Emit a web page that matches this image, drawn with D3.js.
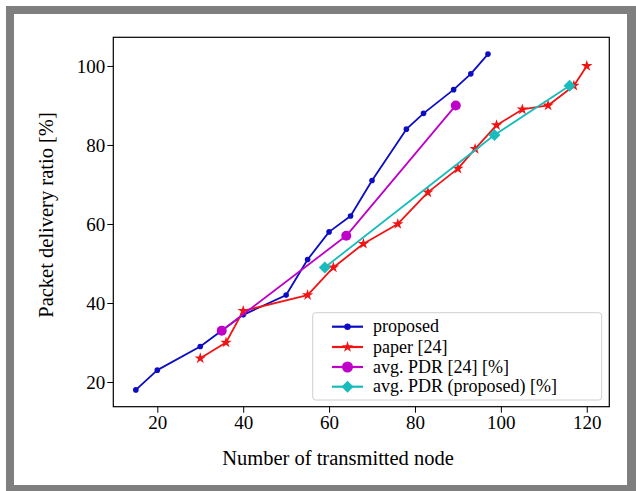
<!DOCTYPE html>
<html>
<head>
<meta charset="utf-8">
<script src="https://cdn.jsdelivr.net/npm/d3@7"></script>
<style>
  html, body { margin: 0; padding: 0; background: #fff; }
  svg { display: block; }
  text { font-family: "Liberation Serif", "DejaVu Serif", serif; fill: #000; }
</style>
</head>
<body>
<svg id="chart" width="636" height="491"></svg>
<script>
// ---- data ----
const proposedX = [15, 20, 30, 40, 50, 55, 60, 65, 70, 78, 82, 89, 93, 97];
const proposedY = [18, 23, 29, 37, 42, 51, 58, 62, 71, 84, 88, 94, 98, 103];
const paperX = [30, 36, 40, 55, 61, 68, 76, 83, 90, 94, 99, 105, 111, 117, 120];
const paperY = [26, 30, 38, 42, 49, 55, 60, 68, 74, 79, 85, 89, 90, 95, 100];
const avgPaperX = [35, 64, 89.5];
const avgPaperY = [33, 57, 90];
const avgPropX = [59, 98.5, 116];
const avgPropY = [49, 82.5, 95];
const xTicks = [20, 40, 60, 80, 100, 120];
const yTicks = [20, 40, 60, 80, 100];
const seriesNames = ["proposed", "paper [24]", "avg. PDR [24] [%]", "avg. PDR (proposed) [%]"];
const xTitle = "Number of transmitted node";
const yTitle = "Packet delivery ratio [%]";

const svg = d3.select("#chart");

// frame
const gray = "#7f7f7f";
svg.append("rect").attr("x", 6).attr("y", 6).attr("width", 630).attr("height", 8).attr("fill", gray);
svg.append("rect").attr("x", 6).attr("y", 6).attr("width", 8).attr("height", 485).attr("fill", gray);
svg.append("rect").attr("x", 627).attr("y", 6).attr("width", 9).attr("height", 485).attr("fill", gray);
svg.append("rect").attr("x", 6).attr("y", 485).attr("width", 630).attr("height", 6).attr("fill", gray);

const L = 113.3, R = 609.3, T = 37.3, B = 406.7;
const x = d3.scaleLinear().domain([9.75, 125.25]).range([L, R]);
const y = d3.scaleLinear().domain([13.75, 107.25]).range([B, T]);

// axes
const xAxis = d3.axisBottom(x).tickValues(xTicks).tickSize(6).tickPadding(3).tickFormat(d3.format("d"));
const yAxis = d3.axisLeft(y).tickValues(yTicks).tickSize(6).tickPadding(2).tickFormat(d3.format("d"));
const gx = svg.append("g").attr("transform", `translate(0,${B})`).call(xAxis);
const gy = svg.append("g").attr("transform", `translate(${L},0)`).call(yAxis);
[gx, gy].forEach(g => {
  g.select(".domain").remove();
  g.selectAll(".tick line").attr("stroke", "#000").attr("stroke-width", 1);
  g.selectAll(".tick text").attr("font-size", 19).attr("font-family", "Liberation Serif").attr("fill", "#000");
});

// plot area border
svg.append("rect").attr("x", L).attr("y", T).attr("width", R - L).attr("height", B - T)
  .attr("fill", "none").attr("stroke", "#000").attr("stroke-width", 1.2);

const colors = ["#0c0cc4", "#f01414", "#c000c8", "#18bcbc"];

function drawLine(xs, ys, color) {
  const pts = xs.map((v, i) => [x(v), y(ys[i])]);
  svg.append("path").attr("d", d3.line()(pts)).attr("fill", "none")
    .attr("stroke", color).attr("stroke-width", 1.8).attr("stroke-linejoin", "round");
  return pts;
}

// proposed
drawLine(proposedX, proposedY, colors[0]).forEach(p => {
  svg.append("circle").attr("cx", p[0]).attr("cy", p[1]).attr("r", 2.8).attr("fill", colors[0]);
});
// paper [24]
const star = d3.symbol().type(d3.symbolStar).size(40);
drawLine(paperX, paperY, colors[1]).forEach(p => {
  svg.append("path").attr("d", star()).attr("transform", `translate(${p[0]},${p[1]})`).attr("fill", colors[1]);
});
// avg PDR [24]
drawLine(avgPaperX, avgPaperY, colors[2]).forEach(p => {
  svg.append("circle").attr("cx", p[0]).attr("cy", p[1]).attr("r", 5).attr("fill", colors[2]);
});
// avg PDR proposed
const diamond = d3.symbol().type(d3.symbolSquare).size(72);
drawLine(avgPropX, avgPropY, colors[3]).forEach(p => {
  svg.append("path").attr("d", diamond()).attr("transform", `translate(${p[0]},${p[1]}) rotate(45)`).attr("fill", colors[3]);
});

// legend
const lg = svg.append("g");
lg.append("rect").attr("x", 312.7).attr("y", 312.7).attr("width", 289).attr("height", 87.3)
  .attr("rx", 3).attr("fill", "#fff").attr("fill-opacity", 0.85).attr("stroke", "#d0d0d0").attr("stroke-width", 1);
const rowY = [326.7, 347, 367, 386.7];
seriesNames.forEach((name, i) => {
  const cy = rowY[i];
  lg.append("line").attr("x1", 332).attr("x2", 363).attr("y1", cy).attr("y2", cy)
    .attr("stroke", colors[i]).attr("stroke-width", 2.2);
  const mx = 347.5;
  if (i === 0) lg.append("circle").attr("cx", mx).attr("cy", cy).attr("r", 3.2).attr("fill", colors[i]);
  if (i === 1) lg.append("path").attr("d", star()).attr("transform", `translate(${mx},${cy})`).attr("fill", colors[i]);
  if (i === 2) lg.append("circle").attr("cx", mx).attr("cy", cy).attr("r", 5.5).attr("fill", colors[i]);
  if (i === 3) lg.append("path").attr("d", diamond()).attr("transform", `translate(${mx},${cy}) rotate(45)`).attr("fill", colors[i]);
  lg.append("text").attr("x", 373).attr("y", cy + 5.5).attr("font-size", 18).text(name);
});

// axis titles
svg.append("text").attr("x", 338).attr("y", 465).attr("text-anchor", "middle").attr("font-size", 20.5).text(xTitle);
svg.append("text").attr("transform", `translate(53,215) rotate(-90)`).attr("text-anchor", "middle").attr("font-size", 20.5).text(yTitle);
</script>
</body>
</html>
